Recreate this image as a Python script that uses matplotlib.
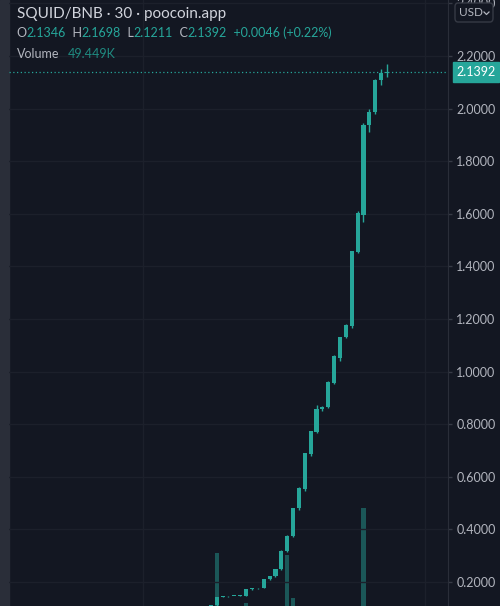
"""
plot.py

SQUID/BNB 30m candles (poocoin.app style), dark TradingView look.
"""

import matplotlib
matplotlib.use("Agg")
import matplotlib.pyplot as plt
from matplotlib.patches import FancyBboxPatch

plt.rcParams["font.family"] = ["Lato", "DejaVu Sans"]

# ---- data ----
opens = [0.106, 0.108, 0.112, 0.143, 0.145, 0.146, 0.147, 0.148, 0.173, 0.176, 0.178,
         0.211, 0.222, 0.248, 0.318, 0.375, 0.480, 0.555, 0.688, 0.770, 0.856, 0.865,
         0.957, 1.050, 1.131, 1.174, 1.455, 1.596, 1.937, 1.987, 2.108, 2.1346]
closes = [0.108, 0.112, 0.143, 0.145, 0.146, 0.147, 0.148, 0.173, 0.176, 0.178, 0.211,
          0.222, 0.248, 0.318, 0.375, 0.480, 0.557, 0.690, 0.774, 0.858, 0.865, 0.960,
          1.058, 1.131, 1.177, 1.458, 1.603, 1.937, 1.987, 2.108, 2.135, 2.1392]
highs = [0.109, 0.113, 0.144, 0.146, 0.147, 0.148, 0.149, 0.174, 0.177, 0.179, 0.212,
         0.224, 0.250, 0.320, 0.378, 0.482, 0.560, 0.692, 0.776, 0.873, 0.868, 0.963,
         1.062, 1.133, 1.180, 1.460, 1.610, 1.945, 2.000, 2.112, 2.150, 2.1698]
lows = [0.105, 0.106, 0.110, 0.142, 0.144, 0.145, 0.146, 0.146, 0.171, 0.175, 0.176,
        0.209, 0.220, 0.245, 0.315, 0.372, 0.475, 0.545, 0.680, 0.766, 0.852, 0.862,
        0.952, 1.040, 1.128, 1.165, 1.450, 1.568, 1.910, 1.980, 2.090, 2.1211]
volumes_k = [20, 25, 1850, 30, 25, 20, 25, 200, 30, 25, 40, 35, 45, 60, 1790, 365,
             50, 45, 40, 55, 30, 50, 45, 40, 35, 70, 60, 3350, 50, 45, 55, 49.449]

price_ticks = [0.2, 0.4, 0.6, 0.8, 1.0, 1.2, 1.4, 1.6, 1.8, 2.0, 2.2, 2.4]
last_price = 2.1392
time_grid = [-10.6, 37.5]

BG = "#131722"
UP = "#26a69a"
GRID = "#1c202b"
TEXT = "#d1d4dc"
AXTEXT = "#b2b5be"

W, H = 500, 606
fig = plt.figure(figsize=(W / 100, H / 100), dpi=100)
fig.patch.set_facecolor(BG)

# left toolbar strip
fig.add_artist(plt.Rectangle((0, 0), 9 / W, 1, transform=fig.transFigure,
                             color="#2a2e39", zorder=0))

rect = [9 / W, 0, (448 - 9) / W, 1]
xs = list(range(len(opens)))
xlim = (-33.4, 41.4)

# volume pane (behind); its base sits just below the visible crop
axv = fig.add_axes(rect)
axv.set_facecolor(BG)
axv.bar(xs, volumes_k, width=0.75, color=UP, alpha=0.45, linewidth=0)
axv.set_xlim(*xlim)
axv.set_ylim(100, 20100)
axv.axis("off")

# price pane
ax = fig.add_axes(rect)
ax.patch.set_visible(False)
ax.set_xlim(*xlim)
ax.set_ylim(0.1087, 2.413)

for y in price_ticks:
    ax.axhline(y, color=GRID, linewidth=1, zorder=0)
for x in time_grid:
    ax.axvline(x, color=GRID, linewidth=1, zorder=0)

bottoms = [min(o, c) for o, c in zip(opens, closes)]
heights = [max(abs(c - o), 0.003) for o, c in zip(opens, closes)]
ax.vlines(xs, lows, highs, color=UP, linewidth=1, zorder=2)
ax.bar(xs, heights, bottom=bottoms, width=0.7, color=UP, linewidth=0, zorder=3)

# last price dotted line
ax.axhline(last_price, color=UP, linestyle=(0, (1, 2)), linewidth=0.9, zorder=1)

ax.yaxis.tick_right()
ax.set_yticks(price_ticks)
ax.set_yticklabels([f"{v:.4f}" for v in price_ticks])
ax.tick_params(axis="y", colors="#363a45", labelcolor=AXTEXT, labelsize=9,
               length=3, width=1, pad=3)
ax.set_xticks([])
for s in ["top", "bottom", "left"]:
    ax.spines[s].set_visible(False)
ax.spines["right"].set_color("#2a2e39")

# last price label on the axis
ax.annotate(f"{last_price:.4f}", xy=(1.0, last_price),
            xycoords=("axes fraction", "data"), xytext=(6, 0),
            textcoords="offset points", ha="left", va="center",
            fontsize=9, color="white",
            bbox=dict(boxstyle="square,pad=0.3", fc=UP, ec=UP))

# header text
fig.text(17 / W, 1 - 14 / H, "SQUID/BNB · 30 · poocoin.app", fontsize=11,
         color=TEXT, va="center", ha="left")

parts = [("O", AXTEXT), ("2.1346", UP), ("  H", AXTEXT), ("2.1698", UP),
         ("  L", AXTEXT), ("2.1211", UP), ("  C", AXTEXT), ("2.1392", UP),
         ("  +0.0046 (+0.22%)", UP)]
renderer = fig.canvas.get_renderer()
x0 = 16 / W
for txt, col in parts:
    t = fig.text(x0, 1 - 33 / H, txt, fontsize=9, color=col, va="center", ha="left")
    bb = t.get_window_extent(renderer=renderer)
    x0 += bb.width / W

t = fig.text(17 / W, 1 - 54 / H, "Volume", fontsize=9, color=AXTEXT,
             va="center", ha="left")
bb = t.get_window_extent(renderer=renderer)
fig.text(17 / W + bb.width / W + 8 / W, 1 - 54 / H, "49.449K", fontsize=9,
         color="#1f8a80", va="center", ha="left")

# currency button (drawn over the clipped top tick label)
fig.add_artist(FancyBboxPatch((455 / W, 1 - 22 / H), 38 / W, 19 / H,
                              boxstyle="round,pad=0,rounding_size=0.006",
                              transform=fig.transFigure, fc=BG, ec="#363a45",
                              linewidth=1, zorder=5))
fig.text(459 / W, 1 - 13 / H, "USD", fontsize=8.5, color=AXTEXT, va="center",
         ha="left", zorder=6)
fig.add_artist(plt.Line2D([484 / W, 486.5 / W, 489 / W],
                          [1 - 12 / H, 1 - 14.5 / H, 1 - 12 / H],
                          transform=fig.transFigure, color=AXTEXT, linewidth=0.9,
                          zorder=6))

fig.savefig("out.png", dpi=100, facecolor=BG)
